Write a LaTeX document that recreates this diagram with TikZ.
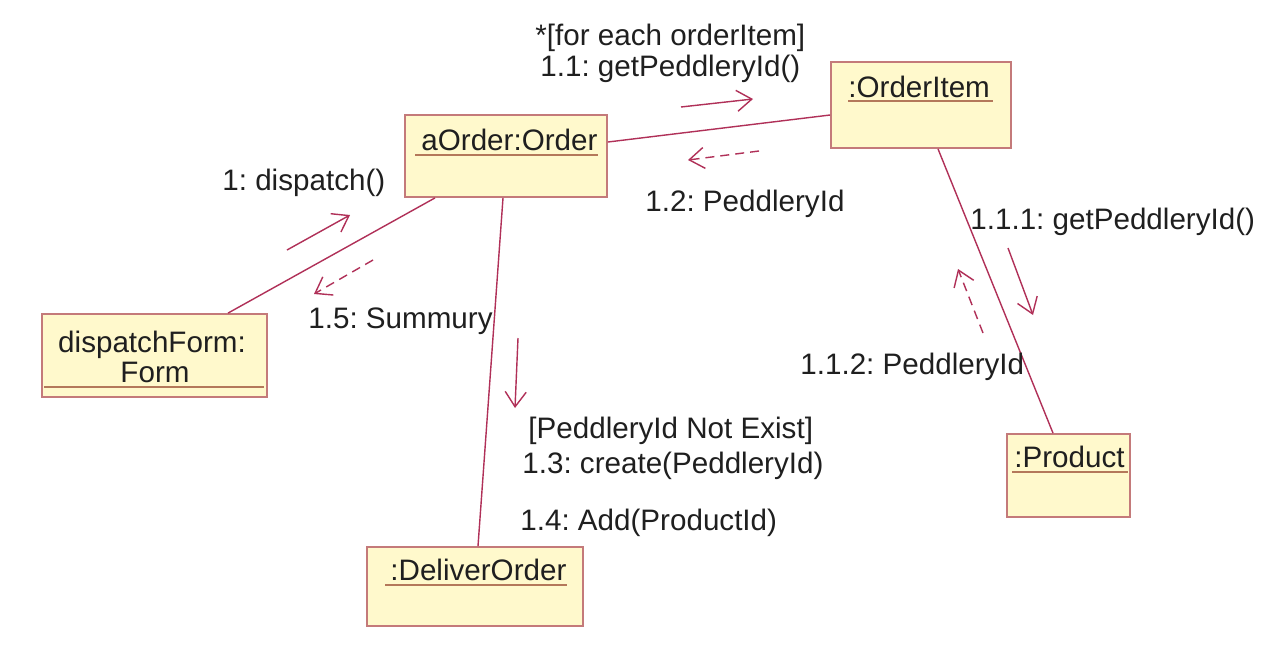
\documentclass[tikz,border=0pt]{standalone}
\usepackage{fontspec}
\setmainfont{Liberation Sans}
\usetikzlibrary{arrows.meta}
\definecolor{boxfill}{RGB}{255,249,204}
\definecolor{boxline}{RGB}{196,122,122}
\definecolor{conn}{RGB}{176,48,88}
\definecolor{uline}{RGB}{180,120,90}
\frenchspacing
\begin{document}
\begin{tikzpicture}[x=0.5pt,y=-0.5pt,
  objbox/.style={draw=boxline, fill=boxfill, line width=0.9pt, inner sep=0pt},
  lbl/.style={font=\fontsize{14.8}{17}\selectfont, inner sep=0pt, anchor=base west, text=black!88},
  ul/.style={draw=uline, line width=0.9pt},
  link/.style={draw=conn, line width=0.7pt},
  msg/.style={draw=conn, line width=0.7pt, -{Straight Barb[length=7.5pt,width=10.5pt]}},
  ret/.style={msg, dash pattern=on 4.5pt off 3pt}]
\fill[white] (0,0) rectangle (1283,671);
\useasboundingbox (0,0) rectangle (1283,671);

% object boxes
\node[objbox, minimum width=101pt, minimum height=41pt] (ord) at (506,156) {};
\node[objbox, minimum width=90pt, minimum height=43pt] (oi) at (921,105) {};
\node[objbox, minimum width=112.5pt, minimum height=41.5pt] (disp) at (154.5,355.5) {};
\node[objbox, minimum width=108pt, minimum height=39.5pt] (dlv) at (475,586.5) {};
\node[objbox, minimum width=61.5pt, minimum height=41.5pt] (prod) at (1068.5,475.5) {};

% object names
\node[lbl] (tord) at (421,150) {aOrder:Order};
\node[lbl] (toi) at (848,97) {:OrderItem};
\node[lbl, anchor=base] (tdisp1) at (152,352) {dispatchForm:};
\node[lbl, anchor=base] (tdisp2) at (155,382) {Form};
\node[lbl] (tdlv) at (390,580) {:DeliverOrder};
\node[lbl] (tprod) at (1014,467) {:Product};

% underlines
\draw[ul] ([xshift=-3pt,yshift=-2.5pt]tord.base west) -- ([xshift=0pt,yshift=-2.5pt]tord.base east);
\draw[ul] ([xshift=0pt,yshift=-2pt]toi.base west) -- ([xshift=1.5pt,yshift=-2pt]toi.base east);
\draw[ul] ([xshift=1.5pt,yshift=5.5pt]disp.south west) -- ([xshift=-2pt,yshift=5.5pt]disp.south east);
\draw[ul] ([xshift=-2.5pt,yshift=-2.5pt]tdlv.base west) -- ([xshift=0pt,yshift=-2.5pt]tdlv.base east);
\draw[ul] ([xshift=-1pt,yshift=-2.5pt]tprod.base west) -- ([xshift=1.5pt,yshift=-2.5pt]tprod.base east);

% links
\draw[link] ([yshift=7pt]ord.east) -- ([yshift=-5pt]oi.west);
\draw[link] ([xshift=-35.5pt]ord.south) -- ([xshift=36.75pt]disp.north);
\draw[link] ([xshift=-1.5pt]ord.south) -- ([xshift=1.5pt]dlv.north);
\draw[link] ([xshift=8.5pt]oi.south) -- ([xshift=-7.75pt]prod.north);

% messages
\draw[msg] (681,107) -- (753,99);
\draw[ret] (759,151) -- (688,160);
\draw[msg] (287,250) -- (350,215);
\draw[ret] (373,260) -- (314,294);
\draw[msg] (518,338) -- (515,408);
\draw[msg] (1008,248) -- (1033,315);
\draw[ret] (983,333) -- (958,269);

% message labels
\node[lbl] (l0) at (535,45) {*[for each orderItem]};
\node[lbl] (l11) at (540,76) {1.1: getPeddleryId()};
\node[lbl] (l1) at (222,190) {1: dispatch()};
\node[lbl] (l12) at (645,211) {1.2: PeddleryId};
\node[lbl] (l111) at (970,229) {1.1.1: getPeddleryId()};
\node[lbl] (l15) at (308,328) {1.5: Summury};
\node[lbl] (l112) at (800,374) {1.1.2: PeddleryId};
\node[lbl] (lg) at (528,438) {[PeddleryId Not Exist]};
\node[lbl] (l13) at (522,473) {1.3: create(PeddleryId)};
\node[lbl] (l14) at (520,530) {1.4: Add(ProductId)};
\end{tikzpicture}
\end{document}
